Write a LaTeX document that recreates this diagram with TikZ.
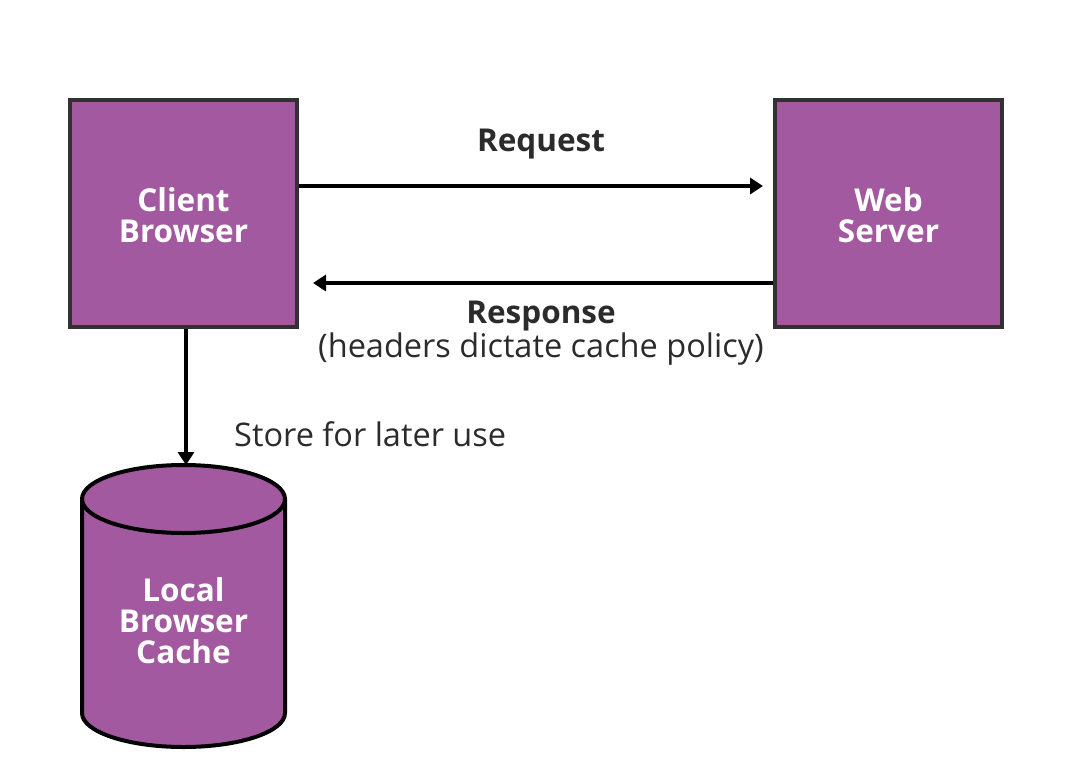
\documentclass[tikz,border=0pt]{standalone}
\usepackage{fontspec}
\setmainfont{Open Sans}
\usetikzlibrary{arrows.meta}
\definecolor{boxfill}{HTML}{A259A0}
\definecolor{boxline}{HTML}{333033}
\definecolor{txt}{HTML}{2B2B2B}
\begin{document}
\begin{tikzpicture}[x=1pt,y=-1pt,
  box/.style={draw=boxline,line width=4pt,fill=boxfill,minimum width=227pt,minimum height=227pt,inner sep=0pt},
  boxtext/.style={inner sep=0pt,text=white,font=\bfseries\fontsize{31.5}{31}\selectfont,align=center},
  conn/.style={line width=4pt,-{Triangle[length=13pt,width=16pt]}},
  lbl/.style={text=txt,inner sep=0pt},
  boldlbl/.style={lbl,font=\bfseries\fontsize{31.5}{31}\selectfont},
  plainlbl/.style={lbl,font=\fontsize{32.5}{31}\selectfont}]
\useasboundingbox (0,0) rectangle (1083,776);
\node[box] (client) at (183.5,213.5) {};
\node[boxtext] (clienttxt) at ([yshift=-2pt]client.center) {Client\\Browser};
\node[box] (server) at (888.5,213.5) {};
\node[boxtext] (servertxt) at ([yshift=-2pt]server.center) {Web\\Server};
% cylinder
\path[draw=black,line width=4pt,fill=boxfill]
  (82,499) -- (82,713) arc[start angle=180,end angle=0,x radius=101.5,y radius=34] -- (285,499)
  arc[start angle=0,end angle=-180,x radius=101.5,y radius=34] -- cycle;
\draw[line width=4pt] (82,499) arc[start angle=180,end angle=0,x radius=101.5,y radius=34];
\node[boxtext] (cache) at (183.5,621) {Local\\Browser\\Cache};
\coordinate (cachetop) at (186,465);
% arrows
\draw[conn] (client.east |- 0,186) -- ([xshift=-10pt]server.west |- 0,186);
\draw[conn] (server.west |- 0,283) -- ([xshift=14pt]client.east |- 0,283);
\draw[conn] (client.south -| cachetop) -- (cachetop);
\node[boldlbl] (req) at (541,144) {Request};
\node[boldlbl] (resp) at (541,316) {Response};
\node[plainlbl] (hdr) at (541,349) {(headers dictate cache policy)};
\node[plainlbl,anchor=west] (store) at (234,434) {Store for later use};
\end{tikzpicture}
\end{document}
